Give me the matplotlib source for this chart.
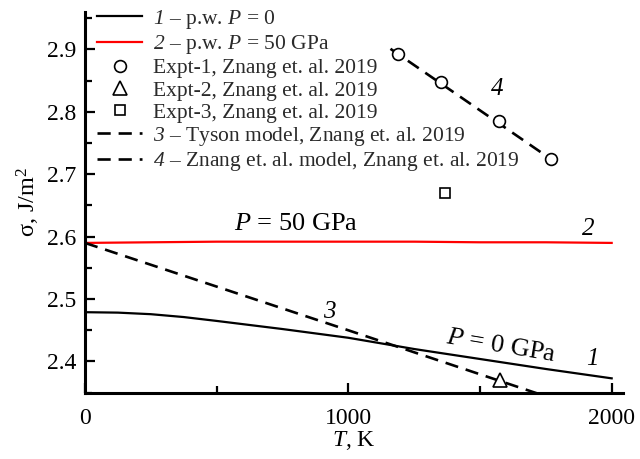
import matplotlib
matplotlib.use("Agg")
import matplotlib.pyplot as plt
from matplotlib.ticker import MultipleLocator

plt.rcParams["font.family"] = ["Liberation Serif", "DejaVu Serif"]
plt.rcParams["mathtext.fontset"] = "custom"
plt.rcParams["mathtext.rm"] = "Liberation Serif"
plt.rcParams["mathtext.it"] = "Liberation Serif:italic"
# italic digits for curve numbers
plt.rcParams["mathtext.sf"] = "Liberation Serif:italic"

# Present work: surface energy vs temperature
T_pw = [0, 125, 250, 375, 500, 750, 1000, 1250, 1500, 1750, 2000]
sigma_p0 = [2.479, 2.4783, 2.4758, 2.4712, 2.465, 2.452, 2.438, 2.420, 2.404, 2.388, 2.373]
sigma_p50 = [2.590, 2.5905, 2.591, 2.5915, 2.592, 2.592, 2.592, 2.592, 2.591, 2.591, 2.590]

# Experiments
T_exp1 = [1188, 1351, 1572, 1770]
sigma_exp1 = [2.893, 2.848, 2.786, 2.724]
T_exp2 = [1576]
sigma_exp2 = [2.371]
T_exp3 = [1368]
sigma_exp3 = [2.670]

# Models
T_tyson = [0, 1000, 2000]
sigma_tyson = [2.590, 2.450, 2.309]
T_znang = [1160, 1770]
sigma_znang = [2.901, 2.724]

fig = plt.figure(figsize=(6.4, 4.59), dpi=100)
ax = fig.add_axes([85 / 640, 1 - 392.7 / 459, (623 - 85) / 640, (392.7 - 12) / 459])

dash = (0, (5, 3))
l1, = ax.plot(T_pw, sigma_p0, color="black", lw=1.6)
l2, = ax.plot(T_pw, sigma_p50, color="red", lw=1.6)
m1, = ax.plot(T_exp1, sigma_exp1, "o", mfc="white", mec="black", ms=8.5, mew=1.2, ls="none", zorder=4)
m2, = ax.plot(T_exp2, sigma_exp2, "^", mfc="white", mec="black", ms=10, mew=1.2, ls="none", zorder=4)
m3, = ax.plot(T_exp3, sigma_exp3, "s", mfc="white", mec="black", ms=7.5, mew=1.2, ls="none", zorder=4)
l3, = ax.plot(T_tyson, sigma_tyson, color="black", lw=1.9, ls=dash)
l4, = ax.plot(T_znang, sigma_znang, color="black", lw=1.9, ls=dash, zorder=3)

ax.set_xlim(0, 2043)
ax.set_ylim(2.35, 2.96)
ax.xaxis.set_major_locator(MultipleLocator(1000))
ax.xaxis.set_minor_locator(MultipleLocator(500))
ax.yaxis.set_major_locator(MultipleLocator(0.1))
ax.yaxis.set_minor_locator(MultipleLocator(0.05))
ax.tick_params(which="both", direction="in", labelsize=17, width=1.6)
ax.tick_params(which="major", length=7)
ax.tick_params(which="minor", length=5)
ax.tick_params(axis="x", which="major", pad=11)
ax.tick_params(axis="y", which="major", pad=6)
ax.spines["top"].set_visible(False)
ax.spines["right"].set_visible(False)
ax.spines["left"].set_linewidth(2.2)
ax.spines["bottom"].set_linewidth(2.2)

ax.set_xlabel(r"$\mathit{T}$, K", fontsize=17, labelpad=0)
ax.set_ylabel(r"σ, J/m$^2$", fontsize=17.5, labelpad=4)

labels = [
    r"$\mathsf{1}$ – p.w. $\mathit{P}$ = 0",
    r"$\mathsf{2}$ – p.w. $\mathit{P}$ = 50 GPa",
    "Expt-1, Znang et. al. 2019",
    "Expt-2, Znang et. al. 2019",
    "Expt-3, Znang et. al. 2019",
    r"$\mathsf{3}$ – Tyson model, Znang et. al. 2019",
    r"$\mathsf{4}$ – Znang et. al. model, Znang et. al. 2019",
]
fig.legend([l1, l2, m1, m2, m3, l3, l4], labels, loc="upper left",
           bbox_to_anchor=(97 / 640, 1 - 8 / 459), frameon=False, fontsize=15.5,
           handlelength=2.1, handletextpad=0.5, labelspacing=0.1,
           borderpad=0, borderaxespad=0, numpoints=1, labelcolor="#2a2a2a")

ax.text(803, 2.610, r"$\mathit{P}$ = 50 GPa", fontsize=19, ha="center", va="baseline")
ax.text(1580, 2.425, r"$\mathit{P}$ = 0 GPa", fontsize=19, ha="center", va="center", rotation=-9.5)
ax.text(930, 2.48, r"$\mathsf{3}$", fontsize=18, ha="center", va="center")
ax.text(1924, 2.404, r"$\mathsf{1}$", fontsize=18, ha="center", va="center")
ax.text(1910, 2.613, r"$\mathsf{2}$", fontsize=18, ha="center", va="center")
ax.text(1565, 2.837, r"$\mathsf{4}$", fontsize=18, ha="center", va="center")

fig.savefig("out.png", dpi=100)
